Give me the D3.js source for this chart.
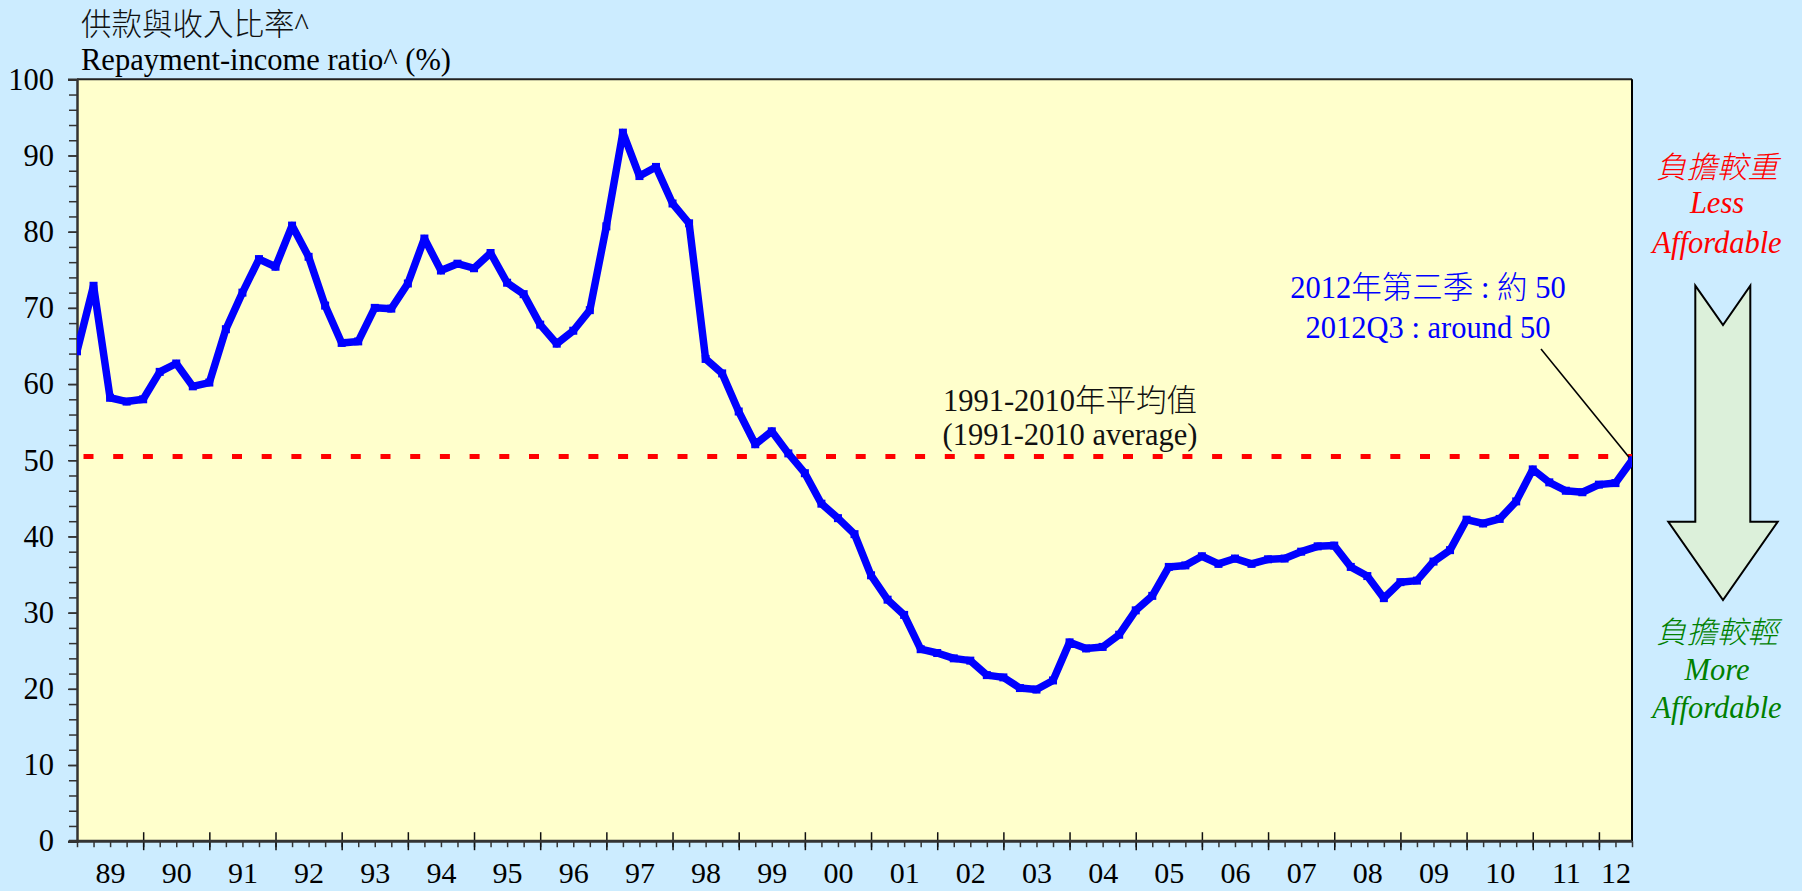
<!DOCTYPE html>
<html>
<head>
<meta charset="utf-8">
<script src="https://cdn.jsdelivr.net/npm/d3@7"></script>
<style>
  html, body { margin: 0; padding: 0; background: #CCECFF; }
  svg { display: block; }
  text { font-family: 'Liberation Serif', 'Times New Roman', 'Noto Sans CJK TC', serif; }
</style>
</head>
<body>
<svg id="chart" width="1802" height="891"></svg>
<script>
// ---- data (quarterly, 1989Q1 .. 2012Q3) ----
const ratio = [
  64.3, 72.9, 58.2, 57.7, 58.0, 61.6, 62.7, 59.7, 60.2, 67.2,
  72.0, 76.4, 75.4, 80.8, 76.7, 70.3, 65.4, 65.6, 70.0, 69.9,
  73.2, 79.1, 74.9, 75.8, 75.2, 77.2, 73.3, 71.8, 67.8, 65.3,
  67.0, 69.7, 80.7, 93.0, 87.3, 88.5, 83.7, 81.1, 63.3, 61.4,
  56.4, 52.1, 53.8, 50.9, 48.3, 44.3, 42.4, 40.3, 34.9, 31.7,
  29.7, 25.2, 24.7, 24.0, 23.7, 21.8, 21.5, 20.1, 19.9, 21.1,
  26.1, 25.3, 25.5, 27.1, 30.3, 32.2, 36.0, 36.2, 37.4, 36.4,
  37.1, 36.4, 37.0, 37.1, 38.0, 38.7, 38.8, 36.0, 34.8, 31.9,
  34.0, 34.2, 36.7, 38.2, 42.2, 41.7, 42.3, 44.6, 48.8, 47.1,
  46.0, 45.8, 46.8, 47.0, 50.0
];
const average = 50.5;
const yearLabels = ["89","90","91","92","93","94","95","96","97","98","99","00",
                    "01","02","03","04","05","06","07","08","09","10","11","12"];
const yTicks = [0,10,20,30,40,50,60,70,80,90,100];
const titleZh = "供款與收入比率^";
const titleEn = "Repayment-income ratio^ (%)";
const avgLabel = ["1991-2010年平均值", "(1991-2010 average)"];
const noteLabel = ["2012年第三季 : 約 50", "2012Q3 : around 50"];
const upperLabel = ["負擔較重", "Less", "Affordable"];
const lowerLabel = ["負擔較輕", "More", "Affordable"];

// ---- layout ----
const L = 77, R = 1632, T = 79.3, B = 841.2;
const FS = 30.5;
const svg = d3.select("#chart");

const x = d3.scaleLinear().domain([0, ratio.length - 1]).range([L, R]);
const y = d3.scaleLinear().domain([0, 100]).range([B, T]);

// plot background
svg.append("rect").attr("x", L).attr("y", T).attr("width", R - L).attr("height", B - T)
  .attr("fill", "#FFFFCC");

svg.append("defs").append("clipPath").attr("id", "clip")
  .append("rect").attr("x", L).attr("y", T - 10).attr("width", R - L).attr("height", B - T + 10);

// top & right frame
svg.append("line").attr("x1", L).attr("x2", R).attr("y1", T).attr("y2", T)
  .attr("stroke", "#222").attr("stroke-width", 2);
svg.append("line").attr("x1", R).attr("x2", R).attr("y1", T).attr("y2", B)
  .attr("stroke", "#000").attr("stroke-width", 2);

// y axis - minor ticks
const yMinor = d3.range(0, 101, 2);
svg.append("g").attr("transform", `translate(${L},0)`)
  .call(d3.axisLeft(y).tickValues(yMinor).tickSize(8).tickFormat(""))
  .call(g => g.select(".domain").remove())
  .call(g => g.selectAll("line").attr("stroke", "#333").attr("stroke-width", 1.5));
// y axis - major ticks + labels
svg.append("g").attr("transform", `translate(${L},0)`)
  .call(d3.axisLeft(y).tickValues(yTicks).tickSize(9).tickPadding(14).tickFormat(d3.format("d")))
  .call(g => g.select(".domain").attr("stroke", "#333").attr("stroke-width", 2.5))
  .call(g => g.selectAll("line").attr("stroke", "#333").attr("stroke-width", 1.5))
  .call(g => g.selectAll("text").attr("font-size", FS).attr("fill", "#000")
      .style("font-family", "'Liberation Serif','Times New Roman',serif"));

// x axis - minor ticks (quarters)
svg.append("g").attr("transform", `translate(0,${B})`)
  .call(d3.axisBottom(x).tickValues(d3.range(0, ratio.length)).tickSize(6).tickFormat(""))
  .call(g => g.select(".domain").remove())
  .call(g => g.selectAll("line").attr("stroke", "#333").attr("stroke-width", 1.5));
// x axis - major ticks (years), crossing
svg.append("g").attr("transform", `translate(0,${B})`)
  .call(d3.axisBottom(x).tickValues(d3.range(4, ratio.length, 4)).tickSize(9).tickFormat(""))
  .call(g => g.select(".domain").remove())
  .call(g => g.selectAll("line").attr("y1", -9).attr("y2", 9).attr("stroke", "#111").attr("stroke-width", 1.5));
// x axis line
svg.append("line").attr("x1", L - 8).attr("x2", R).attr("y1", B).attr("y2", B)
  .attr("stroke", "#333").attr("stroke-width", 3);
// x labels
const labelPos = yearLabels.map((d, k) => Math.min(2 + 4 * k, ratio.length - 2));
svg.append("g").attr("transform", `translate(0,${B})`)
  .call(d3.axisBottom(x).tickValues(labelPos).tickSize(0).tickPadding(21)
        .tickFormat((d, k) => yearLabels[k]))
  .call(g => g.select(".domain").remove())
  .call(g => g.selectAll("text").attr("font-size", 30).attr("fill", "#000")
      .style("font-family", "'Liberation Serif','Times New Roman',serif"));

// titles
svg.append("text").attr("x", 81).attr("y", 35).attr("font-size", 30.5).attr("font-weight", 300)
  .attr("fill", "#111").text(titleZh);
svg.append("text").attr("x", 81).attr("y", 70).attr("font-size", FS).attr("fill", "#000").text(titleEn);

// average line
svg.append("line")
  .attr("x1", x(0)).attr("x2", x(ratio.length - 1))
  .attr("y1", y(average)).attr("y2", y(average))
  .attr("stroke", "#FF0000").attr("stroke-width", 5)
  .attr("stroke-dasharray", "10 19.7").attr("stroke-dashoffset", 23.2);

// average label
svg.append("g").selectAll("text").data(avgLabel).join("text")
  .attr("x", 1070).attr("y", (d, i) => i === 0 ? 411 : 445)
  .attr("text-anchor", "middle").attr("font-size", FS).attr("font-weight", 300).attr("fill", "#111")
  .text(d => d);

// data line
const line = d3.line().x((d, i) => x(i)).y(d => y(d));
const plot = svg.append("g").attr("clip-path", "url(#clip)");
plot.append("path").datum(ratio).attr("d", line)
  .attr("fill", "none").attr("stroke", "#0000FF").attr("stroke-width", 7.5)
  .attr("stroke-linejoin", "round");
plot.selectAll("rect.mk").data(ratio).join("rect").attr("class", "mk")
  .attr("x", (d, i) => x(i) - 4).attr("y", d => y(d) - 4)
  .attr("width", 8).attr("height", 8).attr("fill", "#0000FF");

// note label + leader
svg.append("g").selectAll("text").data(noteLabel).join("text")
  .attr("x", 1428).attr("y", (d, i) => i === 0 ? 298 : 338)
  .attr("text-anchor", "middle").attr("font-size", FS).attr("font-weight", 300).attr("fill", "#0000FF")
  .text(d => d);
const last = ratio.length - 1;
svg.append("line").attr("x1", 1541).attr("y1", 349)
  .attr("x2", x(last) - 3).attr("y2", y(ratio[last]) - 3)
  .attr("stroke", "#000").attr("stroke-width", 1.6);

// right side arrow
const ax = 1723;
const arrowPts = [
  [ax - 27.7, 285.7], [ax, 325], [ax + 27.3, 285.7], [ax + 27.3, 521.7],
  [ax + 54.7, 521.7], [ax, 600], [ax - 54.7, 521.7], [ax - 27.7, 521.7]
];
svg.append("path").attr("d", d3.line()(arrowPts) + "Z")
  .attr("fill", "#DCF0DA").attr("stroke", "#000").attr("stroke-width", 2)
  .attr("stroke-linejoin", "miter");

svg.append("g").selectAll("text").data(upperLabel).join("text")
  .attr("x", 1717).attr("y", (d, i) => [178, 213, 253][i])
  .attr("text-anchor", "middle").attr("font-size", FS).attr("font-style", "italic").attr("font-weight", 300)
  .attr("fill", "#FF0000").text(d => d);
svg.append("g").selectAll("text").data(lowerLabel).join("text")
  .attr("x", 1717).attr("y", (d, i) => [643, 680, 718][i])
  .attr("text-anchor", "middle").attr("font-size", FS).attr("font-style", "italic").attr("font-weight", 300)
  .attr("fill", "#008000").text(d => d);
</script>
</body>
</html>
